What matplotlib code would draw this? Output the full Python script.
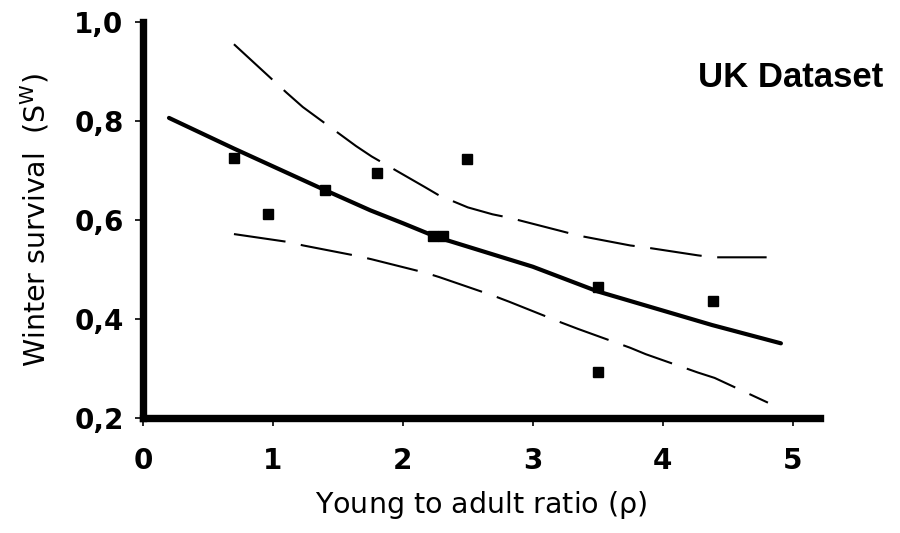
import numpy as np
import matplotlib
matplotlib.use("Agg")
from matplotlib import pyplot as plt

# observed points
obs_x = [0.70, 0.96, 1.40, 1.80, 2.23, 2.31, 2.49, 3.50, 3.50, 4.39]
obs_y = [0.726, 0.612, 0.661, 0.696, 0.568, 0.568, 0.723, 0.465, 0.294, 0.436]

# fitted curve
fit_x = [0.20, 0.70, 1.40, 1.75, 2.00, 2.26, 3.00, 3.50, 4.38, 4.91]
fit_y = [0.807, 0.745, 0.661, 0.620, 0.594, 0.566, 0.506, 0.456, 0.388, 0.351]

# confidence bounds
upper_x = [0.70, 1.105, 1.23, 1.64, 1.76, 2.17, 2.28, 2.50, 2.69, 2.82,
           3.22, 3.35, 3.75, 3.87, 4.27, 4.39, 4.80]
upper_y = [0.956, 0.858, 0.829, 0.750, 0.729, 0.667, 0.650, 0.626, 0.612, 0.605,
           0.578, 0.569, 0.549, 0.545, 0.529, 0.525, 0.525]
lower_x = [0.70, 1.118, 1.233, 1.644, 1.76, 2.17, 2.28, 2.69, 2.82, 3.22,
           3.35, 3.75, 3.87, 4.27, 4.40, 4.81]
lower_y = [0.572, 0.556, 0.549, 0.528, 0.521, 0.494, 0.485, 0.448, 0.435, 0.393,
           0.380, 0.342, 0.329, 0.292, 0.281, 0.231]

x_ticks = [0, 1, 2, 3, 4, 5]
y_ticks = [0.2, 0.4, 0.6, 0.8, 1.0]
y_ticklabels = ["0,2", "0,4", "0,6", "0,8", "1,0"]

plt.rcParams["font.family"] = ["DejaVu Sans"]

fig = plt.figure(figsize=(9, 5.33), dpi=100)
ax = fig.add_axes([0.1589, 0.2158, 0.911 - 0.1589, 0.9578 - 0.2158])

ax.plot(fit_x, fit_y, color="black", lw=3, solid_capstyle="round")
ax.plot(upper_x, upper_y, color="black", lw=1.5, dashes=(25, 7.5))
ax.plot(lower_x, lower_y, color="black", lw=1.5, dashes=(25, 7.5))
ax.plot(obs_x, obs_y, ls="none", marker="s", ms=7, color="black")

ax.set_xlim(0, 5.21)
ax.set_ylim(0.2, 1.0)
ax.set_xticks(x_ticks)
ax.set_xticklabels([str(t) for t in x_ticks])
ax.set_yticks(y_ticks)
ax.set_yticklabels(y_ticklabels)

for side in ("top", "right"):
    ax.spines[side].set_visible(False)
for side in ("left", "bottom"):
    ax.spines[side].set_linewidth(5.3)
    ax.spines[side].set_capstyle("projecting")

ax.tick_params(axis="both", direction="out", length=6, width=1.2,
               labelsize=20)
ax.tick_params(axis="x", pad=15)
ax.tick_params(axis="y", pad=8)
for lab in ax.get_xticklabels() + ax.get_yticklabels():
    lab.set_fontweight("bold")

ax.set_xlabel(r"Young to adult ratio ($\mathregular{\rho}$)", fontsize=20.5, labelpad=10)
ax.set_ylabel(r"Winter survival  (S$^{\mathregular{W}}$)", fontsize=20.5, labelpad=16)

fig.text(0.879, 0.854, "UK Dataset", family="Liberation Sans", fontweight="bold",
         fontsize=25, ha="center", va="center")

fig.savefig("out.png", dpi=100)
